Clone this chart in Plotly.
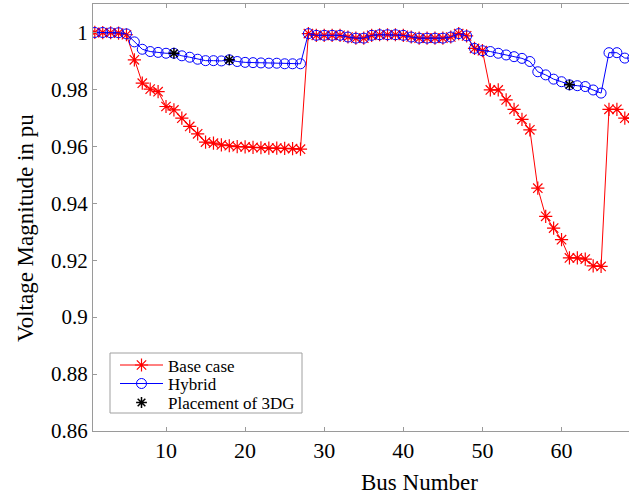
import plotly.graph_objects as go

bus = list(range(1, 70))

base_case = [
    1.0, 0.99997, 0.9999, 0.9998, 0.9992, 0.9904, 0.9822, 0.9801, 0.9792, 0.9740,
    0.9728, 0.9699, 0.9670, 0.9644, 0.9615, 0.9611, 0.9605, 0.9602, 0.9599, 0.9598,
    0.9596, 0.9595, 0.9594, 0.9594, 0.9593, 0.9592, 0.9590, 0.9996, 0.9990, 0.9990,
    0.9990, 0.9990, 0.9984, 0.9980, 0.9980, 0.9990, 0.9992, 0.9992, 0.9992, 0.9990,
    0.9984, 0.9980, 0.9980, 0.9980, 0.9980, 0.9984, 0.9996, 0.9988, 0.9944, 0.9936,
    0.9798, 0.9798, 0.9763, 0.9730, 0.9695, 0.9658, 0.9453, 0.9354, 0.9313, 0.9272,
    0.9208, 0.9208, 0.9204, 0.9180, 0.9178, 0.9730, 0.9730, 0.9699, 0.9699,
]

hybrid = [
    1.0, 1.0, 0.9999, 0.9999, 0.9995, 0.9967, 0.9941, 0.9933, 0.9930, 0.9927,
    0.9927, 0.9918, 0.9913, 0.9906, 0.9901, 0.9901, 0.9900, 0.9904, 0.9898, 0.9895,
    0.9894, 0.9893, 0.9892, 0.9892, 0.9890, 0.9890, 0.9890, 0.9996, 0.9990, 0.9990,
    0.9990, 0.9990, 0.9984, 0.9980, 0.9980, 0.9990, 0.9992, 0.9992, 0.9992, 0.9990,
    0.9984, 0.9980, 0.9980, 0.9980, 0.9980, 0.9984, 0.9996, 0.9988, 0.9944, 0.9936,
    0.9933, 0.9927, 0.9921, 0.9915, 0.9909, 0.9898, 0.9862, 0.9851, 0.9836, 0.9827,
    0.9816, 0.9813, 0.9810, 0.9798, 0.9787, 0.9929, 0.9929, 0.9910, 0.9910,
]

dg_bus = [11, 18, 61]
dg_volt = [hybrid[b - 1] for b in dg_bus]

x_ticks = [10, 20, 30, 40, 50, 60]
y_ticks = [0.86, 0.88, 0.90, 0.92, 0.94, 0.96, 0.98, 1.0]
y_ticktext = ["0.86", "0.88", "0.9", "0.92", "0.94", "0.96", "0.98", "1"]

FONT = "Liberation Serif"
AXIS_COLOR = "#9a9a9a"

# plot area in page pixels
PL, PR, PT, PB = 93, 629, 4, 431
PW, PH = PR - PL, PB - PT


def px_x(p):
    return (p - PL) / PW


def px_y(p):
    return (PB - p) / PH


LEG_FONT = 17
ITEM_H = LEG_FONT * 1.3 + 3
leg_centers = [365, 383.5, 402.5]


def leg(center):
    return dict(
        x=px_x(115), y=px_y(center - 5 - ITEM_H / 2), xanchor="left", yanchor="top",
        bgcolor="rgba(0,0,0,0)", borderwidth=0,
        font=dict(family=FONT, size=LEG_FONT, color="black"),
        itemwidth=43,
    )


fig = go.Figure()
fig.add_trace(go.Scatter(
    x=bus, y=base_case, mode="lines+markers", name="Base case", legend="legend",
    line=dict(color="#ff0000", width=1),
    marker=dict(symbol="asterisk-open", size=11, color="#ff0000",
                line=dict(color="#ff0000", width=1.2)),
))
fig.add_trace(go.Scatter(
    x=bus, y=hybrid, mode="lines+markers", name="Hybrid", legend="legend2",
    line=dict(color="#0000ff", width=1),
    marker=dict(symbol="circle-open", size=10, color="#0000ff",
                line=dict(color="#0000ff", width=1)),
))
fig.add_trace(go.Scatter(
    x=dg_bus, y=dg_volt, mode="markers", name="Placement of 3DG", legend="legend3",
    marker=dict(symbol="asterisk-open", size=9, color="#000000",
                line=dict(color="#000000", width=1.5)),
))

fig.update_layout(
    width=629, height=499,
    margin=dict(l=PL, r=629 - PR, t=PT, b=499 - PB, autoexpand=False),
    paper_bgcolor="white", plot_bgcolor="white",
    font=dict(family=FONT, color="black", size=21),
    showlegend=True,
    legend=leg(leg_centers[0]),
    legend2=leg(leg_centers[1]),
    legend3=leg(leg_centers[2]),
    xaxis=dict(
        range=[0.77, 68.53], tickvals=x_ticks, ticktext=[str(v) for v in x_ticks],
        showgrid=False, zeroline=False, automargin=False,
        showline=True, linecolor=AXIS_COLOR, linewidth=1, mirror="ticks",
        ticks="inside", ticklen=4, tickcolor=AXIS_COLOR,
        tickfont=dict(family=FONT, size=22, color="black"),
    ),
    yaxis=dict(
        range=[0.86, 1.01], tickvals=y_ticks, ticktext=y_ticktext,
        showgrid=False, zeroline=False, automargin=False,
        showline=True, linecolor=AXIS_COLOR, linewidth=1,
        ticks="inside", ticklen=4, tickcolor=AXIS_COLOR,
        tickfont=dict(family=FONT, size=21, color="black"),
    ),
    shapes=[
        dict(type="rect", xref="paper", yref="paper",
             x0=px_x(110), x1=px_x(302), y0=px_y(413), y1=px_y(353),
             line=dict(color="#a0a0a0", width=1), fillcolor="white", layer="below"),
    ],
    annotations=[
        dict(text="Bus Number", xref="paper", yref="paper",
             x=px_x(419), y=px_y(483),
             xanchor="center", yanchor="middle", showarrow=False,
             font=dict(family=FONT, size=23, color="black")),
        dict(text="Voltage Magnitude in pu", xref="paper", yref="paper",
             x=px_x(25), y=px_y(228), textangle=-90,
             xanchor="center", yanchor="middle", showarrow=False,
             font=dict(family=FONT, size=23, color="black")),
    ],
)

fig.write_html(
    "out.html",
    config={"displayModeBar": False},
    post_script="document.body.style.margin='0';document.body.style.overflow='hidden';",
)
